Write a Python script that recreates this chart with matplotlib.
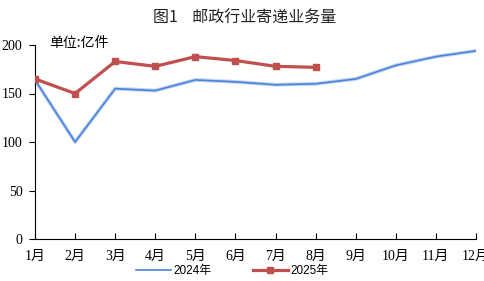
import matplotlib
matplotlib.use("Agg")
import matplotlib.pyplot as plt

plt.rcParams['font.family'] = ['Liberation Serif', 'Noto Sans CJK SC']

months = ["1月", "2月", "3月", "4月", "5月", "6月", "7月", "8月", "9月", "10月", "11月", "12月"]
y2024 = [164, 100, 155, 153, 164, 162, 159, 160, 165, 179, 188, 194]
y2025 = [165, 150, 183, 178, 188, 184, 178, 177]

fig = plt.figure(figsize=(4.85, 2.81), dpi=100)
ax = fig.add_axes([35 / 485, 42 / 281, 441 / 485, 194 / 281])

x24 = list(range(len(y2024)))
x25 = list(range(len(y2025)))

# linea 2024 con sombra clara
ax.plot(x24, y2024, color="#c3d6f2", lw=2.8, zorder=2)
l1, = ax.plot(x24, y2024, color="#4a82d8", lw=1.2, zorder=3, label="2024年")
l2, = ax.plot(x25, y2025, color="#c0504d", lw=2.3, marker="s", ms=5, zorder=4, label="2025年")

ax.set_xlim(0, 11)
ax.set_ylim(0, 200)
ax.set_yticks([0, 50, 100, 150, 200])
ax.set_xticks(x24)
ax.set_xticklabels(months)
ax.spines['top'].set_visible(False)
ax.spines['right'].set_visible(False)
ax.tick_params(axis='x', direction='in', length=4, labelsize=10, pad=8)
ax.tick_params(axis='y', direction='out', length=4, labelsize=10, pad=5)

fig.text(245 / 485, 1 - 18 / 281, "图1    邮政行业寄递业务量", ha="center", va="center",
         fontsize=11.5, color="#222222", family=['Noto Sans CJK SC'])
fig.text(49 / 485, 1 - 43 / 281, "单位:亿件", ha="left", va="center",
         fontsize=10, family=['Noto Sans CJK SC'])

fig.legend(handles=[l1, l2], loc="center", bbox_to_anchor=(232 / 485, 1 - 271 / 281),
           ncol=2, frameon=False, columnspacing=3.5, handlelength=3,
           handletextpad=0.2, prop={'family': ['Liberation Sans', 'Noto Sans CJK SC'], 'size': 8.5})

fig.savefig("out.png", dpi=100)
